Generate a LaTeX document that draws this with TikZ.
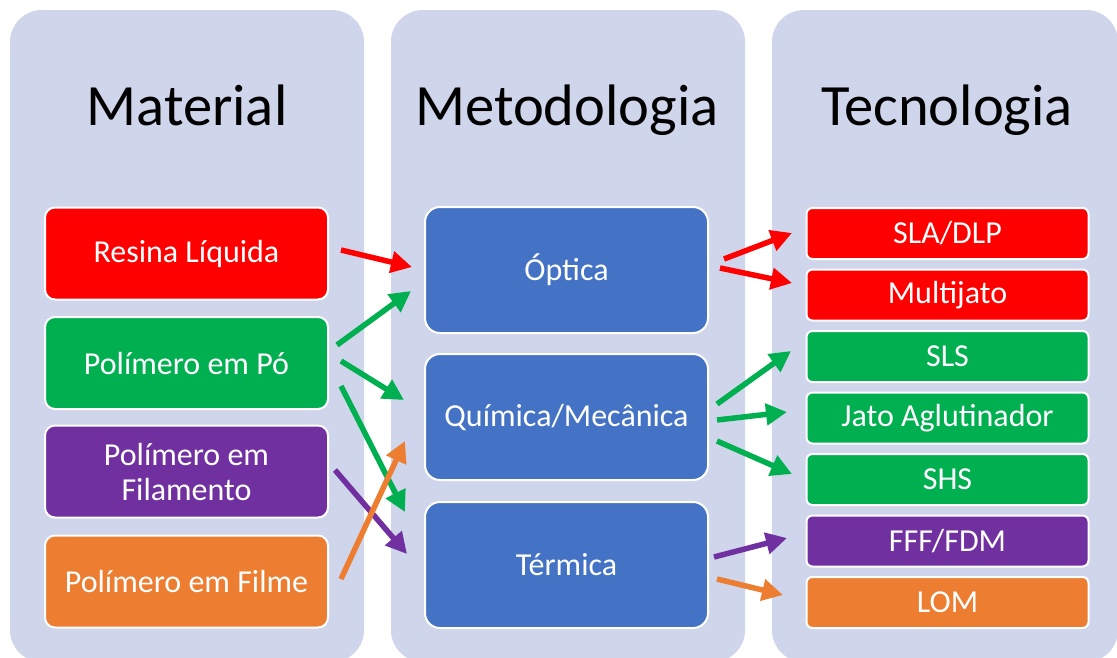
\documentclass[tikz,border=0pt]{standalone}
\usepackage{fontspec}
\setmainfont{Carlito}
\usetikzlibrary{arrows.meta}

\definecolor{panelbg}{HTML}{CFD5EA}
\definecolor{cred}{HTML}{FF0000}
\definecolor{cgreen}{HTML}{00B050}
\definecolor{cpurple}{HTML}{7030A0}
\definecolor{corange}{HTML}{ED7D31}
\definecolor{cblue}{HTML}{4472C4}

\tikzset{
  panel/.style={fill=panelbg, draw=none, rounded corners=32pt},
  title/.style={font=\fontsize{58.5}{62}\selectfont, text=black, anchor=base},
  box/.style={draw=white, line width=2pt, text=white, align=center,
    font=\fontsize{32}{35}\selectfont, inner sep=0pt},
  matbox/.style={box, rounded corners=10pt, minimum width=283pt, minimum height=92pt},
  metbox/.style={box, fill=cblue, rounded corners=15pt, minimum width=283pt, minimum height=126pt},
  tecbox/.style={box, rounded corners=6pt, minimum width=282pt, minimum height=51pt},
  flow/.style={line width=5.5pt, -{Triangle[length=21pt,width=21pt]}},
}

\begin{document}
\begin{tikzpicture}[x=1pt,y=-1pt]
  \useasboundingbox (0,0) rectangle (1117,657);

  % column panels
  \fill[panel] (10,10) rectangle (364,662);
  \fill[panel] (391,10) rectangle (745,662);
  \fill[panel] (772,10) rectangle (1118,662);

  % column titles
  \node[title] (tmat) at (187,125) {Material};
  \node[title] (tmet) at (567,125) {Metodologia};
  \node[title] (ttec) at (947,125) {Tecnologia};

  % materials
  \node[matbox, fill=cred]    (res) at (186.5,253.5) {Resina Líquida};
  \node[matbox, fill=cgreen]  (po)  at (186.5,363)   {Polímero em Pó};
  \node[matbox, fill=cpurple] (fil) at (186.5,471.5) {Polímero em\\Filamento};
  \node[matbox, fill=corange] (fim) at (186.5,581.5) {Polímero em Filme};

  % methodologies
  \node[metbox] (opt) at (566.5,270)   {Óptica};
  \node[metbox] (qui) at (566.5,417)   {Química/Mecânica};
  \node[metbox] (ter) at (566.5,565)   {Térmica};

  % technologies
  \node[tecbox, fill=cred]    (sla) at (947.5,233.5) {SLA/DLP};
  \node[tecbox, fill=cred]    (mul) at (947.5,295)   {Multijato};
  \node[tecbox, fill=cgreen]  (sls) at (947.5,356.5) {SLS};
  \node[tecbox, fill=cgreen]  (jat) at (947.5,418)   {Jato Aglutinador};
  \node[tecbox, fill=cgreen]  (shs) at (947.5,479.5) {SHS};
  \node[tecbox, fill=cpurple] (fff) at (947.5,541)   {FFF/FDM};
  \node[tecbox, fill=corange] (lom) at (947.5,602.5) {LOM};

  % arrow end points, material -> methodology
  \coordinate (a1s) at (341,250); \coordinate (a1e) at (412,267);
  \coordinate (a2s) at (337,345); \coordinate (a2e) at (411,291);
  \coordinate (a3s) at (341,361); \coordinate (a3e) at (404,400);
  \coordinate (a4s) at (341,386); \coordinate (a4e) at (405,512);
  \coordinate (a5s) at (335,470); \coordinate (a5e) at (407,554);
  \coordinate (a6s) at (341,579); \coordinate (a6e) at (405,441);

  % arrow end points, methodology -> technology
  \coordinate (b1s) at (724,259); \coordinate (b1e) at (792,233);
  \coordinate (b2s) at (720,268); \coordinate (b2e) at (792,283);
  \coordinate (b3s) at (717,404); \coordinate (b3e) at (791,351);
  \coordinate (b4s) at (717,420); \coordinate (b4e) at (787,412);
  \coordinate (b5s) at (717,441); \coordinate (b5e) at (792,474);
  \coordinate (b6s) at (714,557); \coordinate (b6e) at (787,538);
  \coordinate (b7s) at (717,579); \coordinate (b7e) at (783,595);

  \draw[flow, cred]    (a1s) -- (a1e);
  \draw[flow, cgreen]  (a2s) -- (a2e);
  \draw[flow, cgreen]  (a3s) -- (a3e);
  \draw[flow, cgreen]  (a4s) -- (a4e);
  \draw[flow, cpurple] (a5s) -- (a5e);
  \draw[flow, corange] (a6s) -- (a6e);

  \draw[flow, cred]    (b1s) -- (b1e);
  \draw[flow, cred]    (b2s) -- (b2e);
  \draw[flow, cgreen]  (b3s) -- (b3e);
  \draw[flow, cgreen]  (b4s) -- (b4e);
  \draw[flow, cgreen]  (b5s) -- (b5e);
  \draw[flow, cpurple] (b6s) -- (b6e);
  \draw[flow, corange] (b7s) -- (b7e);
\end{tikzpicture}
\end{document}
